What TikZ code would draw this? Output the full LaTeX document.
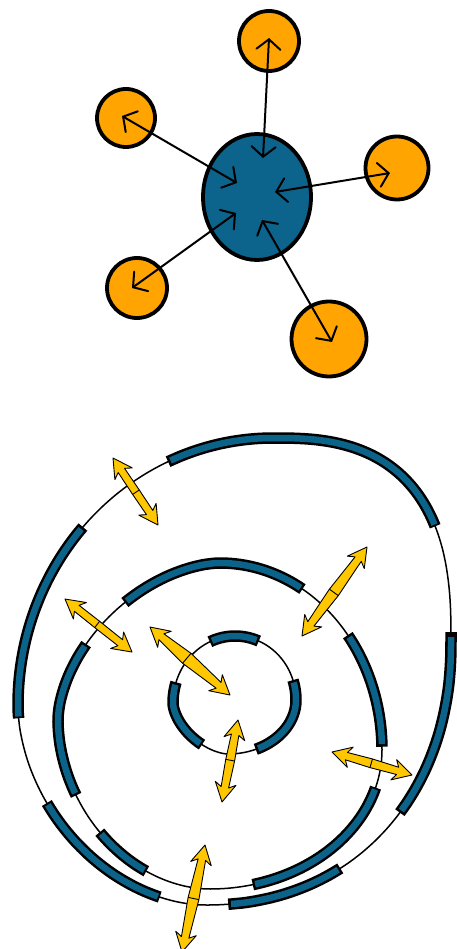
\documentclass[tikz,border=0pt]{standalone}
\usetikzlibrary{arrows.meta,calc,shapes.geometric}
\definecolor{hubcol}{HTML}{0C638C}
\definecolor{orbcol}{HTML}{FFA400}
\definecolor{ringcol}{HTML}{0C6389}
\definecolor{yelcol}{HTML}{FFC700}
\newcommand\setring[8]{\def\rTx{#1}\def\rTy{#2}\def\rRx{#3}\def\rRy{#4}\def\rBx{#5}\def\rBy{#6}\def\rLx{#7}\def\rLy{#8}}
\newcommand\setexp[4]{\def\pTL{#1}\def\pTR{#2}\def\pBR{#3}\def\pBL{#4}}
\newcommand\ringline{\draw[thinring] plot[smooth cycle, domain=-180:176, samples=90, variable=\t] ({qx(\t)},{qy(\t)});}
\newcommand\ringbar[3]{%
  \draw[barout] plot[smooth, domain=#1:#2, samples=30, variable=\t] ({qx(\t)},{qy(\t)});
  \draw[barin] plot[smooth, domain=#1+#3:#2-#3, samples=30, variable=\t] ({qx(\t)},{qy(\t)});}
\newcommand\yarrow[5]{% name, A, B, mid fraction, mid half width
  \coordinate (#1a) at #2; \coordinate (#1b) at #3;
  \coordinate (#1m) at ($(#1a)!#4!(#1b)$);
  \filldraw[yarr] (#1a)
    -- ($(#1a)!19pt!(#1b)!10.5pt!90:(#1b)$)
    -- ($(#1a)!15pt!(#1b)!3.8pt!90:(#1b)$)
    -- ($(#1m)!#5pt!90:(#1b)$)
    -- ($(#1b)!15pt!(#1a)!3.8pt!90:(#1b)$)
    -- ($(#1b)!19pt!(#1a)!10.5pt!90:(#1b)$)
    -- (#1b)
    -- ($(#1b)!19pt!(#1a)!10.5pt!-90:(#1b)$)
    -- ($(#1b)!15pt!(#1a)!3.8pt!-90:(#1b)$)
    -- ($(#1m)!#5pt!-90:(#1b)$)
    -- ($(#1a)!15pt!(#1b)!3.8pt!-90:(#1b)$)
    -- ($(#1a)!19pt!(#1b)!10.5pt!-90:(#1b)$)
    -- cycle;
  \draw[line width=0.9pt] ($(#1m)!#5pt!90:(#1b)$) -- ($(#1m)!#5pt!-90:(#1b)$);}
\begin{document}
\begin{tikzpicture}[x=1pt,y=-1pt,
  declare function={
    qx(\t)=(cos(\t)>0) ? ((sin(\t)<0) ? (\rTx+(\rRx-\rTx)*pow(abs(cos(\t))+0.00001,\pTR)) : (\rBx+(\rRx-\rBx)*pow(abs(cos(\t))+0.00001,\pBR))) : ((sin(\t)<0) ? (\rTx-(\rTx-\rLx)*pow(abs(cos(\t))+0.00001,\pTL)) : (\rBx-(\rBx-\rLx)*pow(abs(cos(\t))+0.00001,\pBL)));
    qy(\t)=(sin(\t)<0) ? ((cos(\t)>0) ? (\rRy-(\rRy-\rTy)*pow(abs(sin(\t))+0.00001,\pTR)) : (\rLy-(\rLy-\rTy)*pow(abs(sin(\t))+0.00001,\pTL))) : ((cos(\t)>0) ? (\rRy+(\rBy-\rRy)*pow(abs(sin(\t))+0.00001,\pBR)) : (\rLy+(\rBy-\rLy)*pow(abs(sin(\t))+0.00001,\pBL)));
  },
  orbnode/.style={circle, draw=black, fill=orbcol, line width=3.8pt, inner sep=0pt},
  hubnode/.style={ellipse, draw=black, fill=hubcol, line width=3.8pt, inner sep=0pt},
  conn/.style={line width=2pt, line cap=round, {Straight Barb[length=10pt,width=24pt,line cap=round]}-{Straight Barb[length=10pt,width=24pt,line cap=round]}},
  thinring/.style={line width=1.5pt},
  barout/.style={line width=11.5pt, line cap=butt},
  barin/.style={line width=6.5pt, draw=ringcol, line cap=butt},
  yarr/.style={fill=yelcol, draw=black, line width=0.9pt, line join=round},
]
\useasboundingbox (0,0) rectangle (456,949);
\fill[white] (0,0) rectangle (456,949);

% ---------- top: hub and satellites ----------
\node[hubnode, minimum width=108pt, minimum height=126pt] (hub) at (257,197) {};
\node[orbnode, minimum size=60pt] (o1) at (269,41) {};
\node[orbnode, minimum size=58pt] (o2) at (126,118) {};
\node[orbnode, minimum size=63pt] (o3) at (397,168) {};
\node[orbnode, minimum size=60pt] (o4) at (137,288) {};
\node[orbnode, minimum size=75pt] (o5) at (329,339) {};

\coordinate (e1) at (269,38);  \coordinate (h1) at (263,158);
\coordinate (e2) at (122,116); \coordinate (h2) at (237,183);
\coordinate (e3) at (390,173); \coordinate (h3) at (275,192);
\coordinate (e4) at (132,288); \coordinate (h4) at (236,213);
\coordinate (e5) at (332,342); \coordinate (h5) at (262,220);
\draw[conn] (e1) -- (h1);
\draw[conn] (e2) -- (h2);
\draw[conn] (e3) -- (h3);
\draw[conn] (e4) -- (h4);
\draw[conn] (e5) -- (h5);

% ---------- bottom: rings ----------
% outer ring
\setring{273}{438}{451}{642}{205}{905}{18}{705}
\setexp{1}{0.75}{0.93}{1.08}
\ringline
\ringbar{-114.3}{-28.0}{0.6}
\ringbar{-1}{38.9}{0.6}
\ringbar{58.3}{85.5}{0.6}
\ringbar{105.6}{148.9}{0.6}
\ringbar{175.4}{221.8}{0.6}

% middle ring
\setring{220}{563}{382}{750}{210}{889}{58}{720}
\setexp{1.15}{1}{1}{1.05}
\ringline
\ringbar{-129.0}{-59.4}{0.8}
\ringbar{-37.9}{-1}{0.8}
\ringbar{15.7}{75.6}{0.8}
\ringbar{115.9}{137.4}{0.8}
\ringbar{152.4}{212.1}{0.8}

% inner ring
\setring{235}{636}{296}{700}{228}{754}{173}{703}
\setexp{1}{1}{1}{1.2}
\ringline
\ringbar{-113.9}{-67.1}{2.2}
\ringbar{-18.1}{65.9}{2.2}
\ringbar{122.4}{198}{2.2}

% ---------- yellow double arrows ----------
\yarrow{y1}{(113,458)}{(158,525)}{0.51}{4}
\yarrow{y2}{(367,547)}{(302,636)}{0.51}{5.5}
\yarrow{y3}{(65,599)}{(132,652)}{0.48}{4}
\yarrow{y4}{(150,627)}{(230,695)}{0.46}{6.5}
\yarrow{y5}{(238,720)}{(222,802)}{0.49}{4.5}
\yarrow{y6}{(332,752)}{(412,775)}{0.49}{4.5}
\yarrow{y7}{(205,845)}{(182,952)}{0.5}{5.5}
\end{tikzpicture}
\end{document}
